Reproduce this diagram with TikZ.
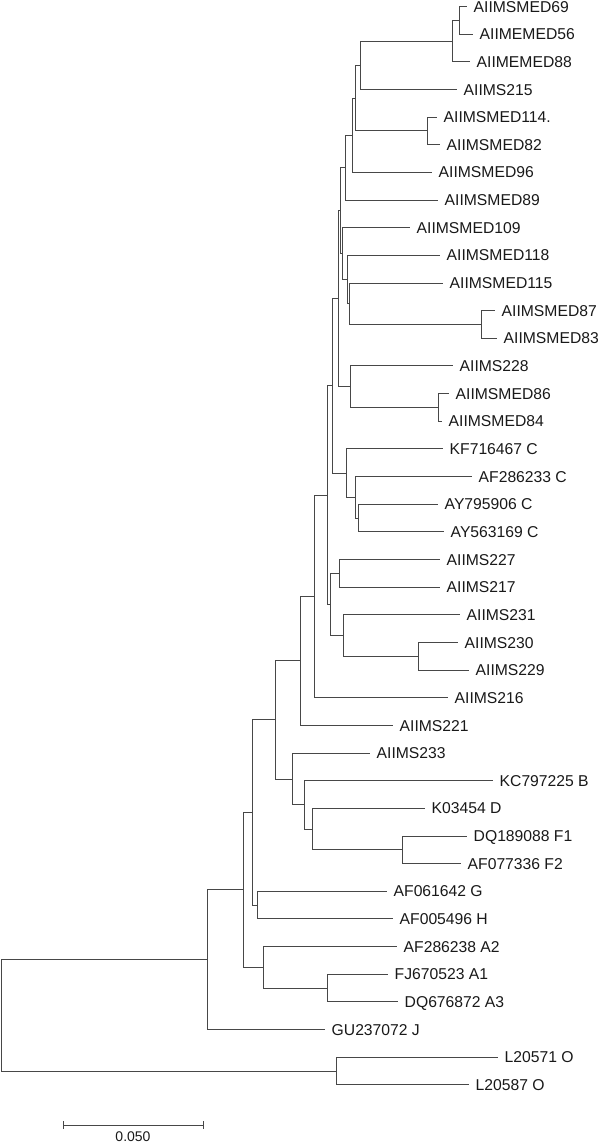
\documentclass[tikz,border=0pt]{standalone}
\usepackage{fontspec}
\setmainfont{Liberation Sans}
\begin{document}
\begin{tikzpicture}[x=1pt,y=-1pt,
  br/.style={draw=black!72, line width=1pt},
  tip/.style={br, shorten >=6.5pt},
  lab/.style={anchor=west, inner sep=0pt, text height=11.2pt, text depth=0pt,
              font=\fontsize{15.7}{18}\selectfont, text=black!90}]
\useasboundingbox (0,0) rectangle (600,1142);
% leaves: index / end of branch / label
\foreach \i/\e/\t in {1/467/AIIMSMED69, 2/473/AIIMEMED56, 3/470/AIIMEMED88, 4/457/AIIMS215,
  5/437/AIIMSMED114., 6/440/AIIMSMED82, 7/432/AIIMSMED96, 8/438/AIIMSMED89,
  9/410/AIIMSMED109, 10/440/AIIMSMED118, 11/443/AIIMSMED115, 12/495/AIIMSMED87,
  13/497/AIIMSMED83, 14/453/AIIMS228, 15/449/AIIMSMED86, 16/442/AIIMSMED84,
  17/443/KF716467 C, 18/472/AF286233 C, 19/438/AY795906 C, 20/444/AY563169 C,
  21/440/AIIMS227, 22/440/AIIMS217, 23/460/AIIMS231, 24/458/AIIMS230,
  25/469/AIIMS229, 26/448/AIIMS216, 27/393/AIIMS221, 28/370/AIIMS233,
  29/493/KC797225 B, 30/425/K03454 D, 31/467/DQ189088 F1, 32/461/AF077336 F2,
  33/387/AF061642 G, 34/393/AF005496 H, 35/397/AF286238 A2, 36/388/FJ670523 A1,
  37/398/DQ676872 A3, 38/325/GU237072 J, 39/498/L20571 O, 40/469/L20587 O}{
  \pgfmathsetmacro\yy{6.5+27.65*(\i-1)}
  \node[lab] (l\i) at (\e+6.5,\yy) {\t};
}
% internal nodes
\coordinate (n1) at (459,20.3);
\coordinate (n2) at (452,41.05);
\coordinate (n3) at (360,65.25);
\coordinate (n4) at (427,130.9);
\coordinate (n5) at (355,98.1);
\coordinate (n6) at (352,135.25);
\coordinate (n7) at (345,167.65);
\coordinate (n87) at (481,324.5);
\coordinate (n8) at (349,303.75);
\coordinate (n9) at (347,279.55);
\coordinate (n10) at (342,253.6);
\coordinate (w) at (340,210.6);
\coordinate (n84) at (438,407.4);
\coordinate (n228) at (350,386.7);
\coordinate (ny) at (338,298.65);
\coordinate (c3) at (358,518.0);
\coordinate (c2) at (355,497.3);
\coordinate (c1) at (346,473.1);
\coordinate (z) at (332,385.9);
\coordinate (n217) at (339,573.3);
\coordinate (n229) at (418,656.3);
\coordinate (n231) at (343,635.55);
\coordinate (n227) at (330,604.4);
\coordinate (nx) at (327,495.15);
\coordinate (f) at (314,596.45);
\coordinate (e) at (300,660.9);
\coordinate (nf) at (402,849.8);
\coordinate (nd) at (312,829.1);
\coordinate (nb) at (304,804.9);
\coordinate (nbdf) at (292,779.0);
\coordinate (d) at (275,719.95);
\coordinate (ngh) at (257,905.1);
\coordinate (c) at (252,812.5);
\coordinate (na13) at (327,988.1);
\coordinate (na) at (263,967.35);
\coordinate (b) at (243,889.9);
\coordinate (a) at (207,959.7);
\coordinate (no) at (336,1071.0);
\coordinate (root) at (1,1015.35);
% branches to leaves
\foreach \p/\l in {n1/1, n1/2, n2/3, n3/4, n4/5, n4/6, n6/7, n7/8, n10/9, n9/10,
  n8/11, n87/12, n87/13, n228/14, n84/15, n84/16, c1/17, c2/18, c3/19, c3/20,
  n217/21, n217/22, n231/23, n229/24, n229/25, f/26, e/27, nbdf/28, nb/29, nd/30,
  nf/31, nf/32, ngh/33, ngh/34, na/35, na13/36, na13/37, a/38, no/39, no/40}{
  \draw[tip] (\p) |- (l\l.west);
}
% branches between internal nodes
\foreach \p/\c in {n2/n1, n3/n2, n5/n3, n5/n4, n6/n5, n7/n6, n8/n87, n9/n8, n10/n9,
  w/n7, w/n10, n228/n84, ny/w, ny/n228, c2/c3, c1/c2, z/ny, z/c1, n231/n229,
  n227/n217, n227/n231, nx/z, nx/n227, f/nx, e/f, nd/nf, nb/nd, nbdf/nb, d/e, d/nbdf,
  c/d, c/ngh, na/na13, b/c, b/na, a/b, root/a, root/no}{
  \draw[br] (\p) |- (\c);
}
% scale bar
\coordinate (s1) at (63,1125);
\coordinate (s2) at (203,1125);
\draw[br] (s1) -- (s2);
\draw[br] ([yshift=4pt]s1) -- ([yshift=-4pt]s1);
\draw[br] ([yshift=4pt]s2) -- ([yshift=-4pt]s2);
\node[anchor=base, inner sep=0pt, font=\fontsize{14}{16}\selectfont, text=black!90] (sl) at (133,1141) {0.050};
\end{tikzpicture}
\end{document}
